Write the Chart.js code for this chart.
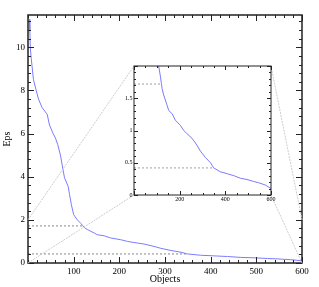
<!DOCTYPE html>
<html>
<head>
<meta charset="utf-8">
<script src="https://cdn.jsdelivr.net/npm/chart.js@4.4.0/dist/chart.umd.min.js"></script>
<style>
  html, body { margin: 0; padding: 0; background: #fff; }
  #wrap { position: relative; width: 319px; height: 287px; }
  canvas { position: absolute; left: 0; top: 0; }
  #inset { pointer-events: none; }
</style>
</head>
<body>
<div id="wrap">
  <canvas id="main" width="319" height="287"></canvas>
  <canvas id="inset" width="319" height="287"></canvas>
</div>
<script>
// sorted k-distance curve
const objects = [3, 4, 5, 7, 9, 12, 18, 23, 31, 42, 47, 55, 60, 65, 71, 76, 80, 88, 91, 95, 100,
  108, 116, 120, 123, 130, 145, 152, 167, 181, 203, 218, 232, 254, 276, 291, 313, 335, 349,
  378, 408, 437, 466, 495, 524, 546, 575, 600];
const eps = [11.3, 10.8, 10.0, 9.5, 9.1, 8.5, 8.0, 7.6, 7.2, 6.9, 6.4, 6.0, 5.8, 5.5, 5.0, 4.4, 3.95,
  3.55, 3.17, 2.7, 2.24, 2.0, 1.83, 1.73, 1.65, 1.55, 1.39, 1.31, 1.26, 1.16, 1.08, 1.0, 0.95,
  0.88, 0.77, 0.68, 0.58, 0.5, 0.42, 0.36, 0.33, 0.3, 0.26, 0.24, 0.21, 0.19, 0.155, 0.1];

// horizontal cut levels and where they meet the curve
const cutLevels = [1.72, 0.42];
const cutEnds = [119, 350];

const xLabels = [100, 200, 300, 400, 500, 600];
const yLabels = [0, 2, 4, 6, 8, 10];
const insetXLabels = [200, 400, 600];
const insetYLabels = [0, 0.5, 1, 1.5];

const curve = objects.map((x, i) => ({ x: x, y: eps[i] }));
const cutSets = (color) => cutLevels.map((lv, i) => ({
  data: [{ x: 0, y: lv }, { x: cutEnds[i], y: lv }],
  borderColor: color, borderWidth: 1, borderDash: [2, 2],
  pointRadius: 0, showLine: true
}));

const has = (list, v) => list.some(l => Math.abs(l - v) < 1e-6);

// inward ticks on all four sides plus the frame
function framePlugin(major, minor, xMajors, yMajors, width) {
  return {
    id: 'frame',
    afterDatasetsDraw(chart) {
      const { ctx, chartArea: a, scales: { x, y } } = chart;
      ctx.save();
      ctx.strokeStyle = '#222';
      ctx.lineWidth = 1;
      ctx.beginPath();
      x.ticks.forEach(t => {
        const px = Math.round(x.getPixelForValue(t.value)) + 0.5;
        const len = has(xMajors, t.value) ? major : minor;
        ctx.moveTo(px, a.bottom); ctx.lineTo(px, a.bottom - len);
        ctx.moveTo(px, a.top); ctx.lineTo(px, a.top + len);
      });
      y.ticks.forEach(t => {
        const py = Math.round(y.getPixelForValue(t.value)) + 0.5;
        const len = has(yMajors, t.value) ? major : minor;
        ctx.moveTo(a.left, py); ctx.lineTo(a.left + len, py);
        ctx.moveTo(a.right, py); ctx.lineTo(a.right - len, py);
      });
      ctx.stroke();
      ctx.lineWidth = width;
      ctx.strokeRect(a.left, a.top, a.right - a.left, a.bottom - a.top);
      ctx.restore();
    }
  };
}

const serif = 'Liberation Serif';
const noGrid = { display: false, drawTicks: false };

const mainChart = new Chart('main', {
  type: 'scatter',
  data: {
    datasets: [
      { data: curve, borderColor: '#7b7bff', borderWidth: 1, pointRadius: 0, showLine: true },
      ...cutSets('#8a8a8a')
    ]
  },
  options: {
    responsive: false,
    animation: false,
    layout: { padding: { left: 0, top: 15, right: 17, bottom: 0 } },
    plugins: { legend: { display: false }, tooltip: { enabled: false } },
    scales: {
      x: {
        type: 'linear', min: 0, max: 600,
        grid: noGrid, border: { display: false },
        afterFit: s => { s.height = 24; },
        ticks: {
          stepSize: 20, autoSkip: false, maxRotation: 0, includeBounds: false, padding: 3,
          color: '#000', font: { family: serif, size: 9 },
          callback: v => has(xLabels, v) ? String(v) : ''
        },
        title: { display: true, text: 'Objects', color: '#000', font: { family: serif, size: 10 }, padding: { top: 0, bottom: 2 } }
      },
      y: {
        type: 'linear', min: 0, max: 11.5,
        grid: noGrid, border: { display: false },
        afterFit: s => { s.width = 28; },
        ticks: {
          stepSize: 0.4, autoSkip: false, includeBounds: false, padding: 3,
          color: '#000', font: { family: serif, size: 9 },
          callback: v => has(yLabels, v) ? String(v) : ''
        },
        title: { display: true, text: 'Eps', color: '#000', font: { family: serif, size: 10 }, padding: { top: 1, bottom: 0 } }
      }
    }
  },
  plugins: [framePlugin(6, 3, xLabels, yLabels, 1.5)]
});

// white inset panel and the zoom connector lines
const insetBack = {
  id: 'insetBack',
  beforeDraw(chart) {
    const { ctx, chartArea: a } = chart;
    const mx = mainChart.scales.x, my = mainChart.scales.y;
    const links = [
      [0, 2, a.left, a.top], [0, 0, a.left, a.bottom],
      [600, 2, a.right, a.top], [600, 0, a.right, a.bottom]
    ];
    ctx.save();
    ctx.strokeStyle = '#cccccc';
    ctx.lineWidth = 1;
    ctx.setLineDash([2, 1]);
    ctx.beginPath();
    links.forEach(l => {
      ctx.moveTo(mx.getPixelForValue(l[0]), my.getPixelForValue(l[1]));
      ctx.lineTo(l[2], l[3]);
    });
    ctx.stroke();
    ctx.setLineDash([]);
    ctx.fillStyle = '#fff';
    ctx.fillRect(a.left, a.top, a.right - a.left, a.bottom - a.top);
    ctx.restore();
  }
};

new Chart('inset', {
  type: 'scatter',
  data: {
    datasets: [
      { data: curve, borderColor: '#7b7bff', borderWidth: 1, pointRadius: 0, showLine: true },
      ...cutSets('#a0a0a0')
    ]
  },
  options: {
    responsive: false,
    animation: false,
    layout: { padding: { left: 124, top: 66, right: 48, bottom: 84 } },
    plugins: { legend: { display: false }, tooltip: { enabled: false } },
    scales: {
      x: {
        type: 'linear', min: 0, max: 600,
        grid: noGrid, border: { display: false },
        afterFit: s => { s.height = 8; },
        ticks: {
          stepSize: 50, autoSkip: false, maxRotation: 0, includeBounds: false, padding: 1,
          color: '#000', font: { family: serif, size: 6 },
          callback: v => has(insetXLabels, v) ? String(v) : ''
        }
      },
      y: {
        type: 'linear', min: 0, max: 2,
        grid: noGrid, border: { display: false },
        afterFit: s => { s.width = 10; },
        ticks: {
          stepSize: 0.1, autoSkip: false, includeBounds: false, padding: 1.5,
          color: '#000', font: { family: serif, size: 6 },
          callback: v => has(insetYLabels, v) ? String(v) : ''
        }
      }
    }
  },
  plugins: [insetBack, framePlugin(4, 2, [0, 200, 400, 600], insetYLabels.concat([2]), 1)]
});
</script>
</body>
</html>
